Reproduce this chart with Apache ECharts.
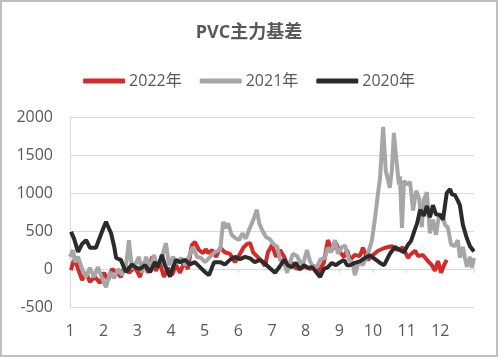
<!DOCTYPE html>
<html><head><meta charset="utf-8">
<script src="https://cdn.jsdelivr.net/npm/echarts@6/dist/echarts.min.js"></script>
<style>html,body{margin:0;padding:0;background:#fff}#c{width:498px;height:357px}</style>
</head><body><div id="c"></div>
<script>
const title = 'PVC主力基差';
const seriesNames = ['2022年', '2021年', '2020年'];
const monthLabels = ['1','2','3','4','5','6','7','8','9','10','11','12'];
// [month position (1 = start of Jan), basis value]
const data2022 = [[1.03,-15],[1.09,90],[1.15,120],[1.24,0],[1.36,-145],[1.48,-50],[1.59,-170],[1.74,-105],[1.89,-185],[2.01,-50],[2.13,-145],[2.25,0],[2.40,-50],[2.51,-105],[2.63,50],[2.75,-50],[2.93,25],[3.08,-105],[3.20,90],[3.32,-50],[3.44,160],[3.55,-25],[3.67,80],[3.79,-105],[3.91,15],[4.03,-80],[4.15,50],[4.27,-50],[4.39,90],[4.50,0],[4.62,315],[4.71,355],[4.83,250],[4.95,210],[5.04,260],[5.10,210],[5.22,250],[5.34,160],[5.46,280],[5.60,220],[5.75,200],[5.90,90],[6.05,200],[6.15,280],[6.26,330],[6.35,340],[6.44,220],[6.55,170],[6.70,100],[6.79,40],[6.88,220],[7.00,315],[7.12,160],[7.24,250],[7.36,160],[7.47,40],[7.59,80],[7.71,10],[7.83,0],[7.98,30],[8.13,0],[8.28,40],[8.37,-40],[8.54,80],[8.66,380],[8.78,250],[8.90,340],[9.02,220],[9.14,160],[9.23,250],[9.32,120],[9.46,185],[9.61,170],[9.70,280],[9.85,120],[10.00,185],[10.15,240],[10.36,280],[10.56,300],[10.71,250],[10.89,280],[11.04,145],[11.10,185],[11.25,240],[11.34,170],[11.48,185],[11.63,105],[11.75,50],[11.84,-25],[11.93,105],[12.02,-50],[12.11,50],[12.19,120]];
const data2021 = [[1.00,160],[1.09,250],[1.15,90],[1.24,160],[1.36,0],[1.48,-105],[1.59,15],[1.71,-105],[1.83,25],[1.95,-120],[2.07,-240],[2.19,-40],[2.31,-120],[2.43,0],[2.54,-80],[2.66,25],[2.75,380],[2.84,0],[2.96,80],[3.05,160],[3.14,-50],[3.26,160],[3.38,0],[3.49,185],[3.61,25],[3.73,160],[3.85,340],[3.94,50],[4.06,160],[4.18,80],[4.30,145],[4.42,50],[4.53,160],[4.65,290],[4.77,160],[4.89,145],[5.01,90],[5.16,160],[5.31,225],[5.46,250],[5.55,620],[5.63,540],[5.70,600],[5.80,450],[5.90,410],[6.02,380],[6.12,470],[6.22,400],[6.32,520],[6.44,640],[6.55,780],[6.62,600],[6.72,500],[6.82,420],[6.94,390],[7.06,320],[7.15,300],[7.24,120],[7.36,80],[7.45,-50],[7.53,80],[7.62,200],[7.74,170],[7.83,100],[7.92,60],[8.04,250],[8.13,100],[8.22,25],[8.34,30],[8.43,120],[8.57,150],[8.66,280],[8.75,220],[8.87,380],[8.96,200],[9.08,290],[9.17,310],[9.29,120],[9.40,80],[9.46,-80],[9.58,100],[9.70,50],[9.85,200],[9.97,380],[10.06,670],[10.15,1000],[10.21,1200],[10.30,1870],[10.38,1290],[10.50,1070],[10.56,1300],[10.62,1790],[10.68,1500],[10.77,1110],[10.80,1220],[10.86,540],[10.92,1160],[11.04,1110],[11.10,1150],[11.19,770],[11.28,1030],[11.37,930],[11.45,550],[11.51,910],[11.60,1010],[11.69,470],[11.78,650],[11.87,450],[11.96,700],[12.05,720],[12.14,580],[12.22,550],[12.32,320],[12.43,300],[12.52,380],[12.58,150],[12.67,290],[12.73,145],[12.79,30],[12.88,160],[12.94,15],[13.00,145]];
const data2020 = [[1.03,490],[1.12,400],[1.24,225],[1.36,330],[1.48,380],[1.59,280],[1.77,280],[1.89,420],[2.01,560],[2.07,620],[2.13,560],[2.22,470],[2.31,300],[2.37,145],[2.51,120],[2.66,-40],[2.84,60],[2.93,25],[3.08,0],[3.23,50],[3.38,-40],[3.52,90],[3.61,25],[3.73,185],[3.82,50],[3.97,-100],[4.06,25],[4.15,120],[4.27,90],[4.42,120],[4.56,60],[4.71,90],[4.86,25],[5.01,-40],[5.13,-80],[5.28,90],[5.46,90],[5.60,60],[5.75,120],[5.90,160],[6.05,130],[6.20,160],[6.35,140],[6.49,90],[6.64,120],[6.82,60],[6.94,10],[7.09,-50],[7.24,40],[7.36,120],[7.47,50],[7.59,25],[7.71,80],[7.83,0],[7.95,50],[8.07,15],[8.19,25],[8.31,-40],[8.43,-105],[8.54,0],[8.66,25],[8.78,80],[8.90,50],[9.02,90],[9.14,120],[9.23,50],[9.32,50],[9.46,80],[9.61,100],[9.76,145],[9.91,180],[10.06,130],[10.21,80],[10.33,50],[10.50,200],[10.65,290],[10.80,250],[10.92,220],[11.04,320],[11.13,370],[11.22,490],[11.31,600],[11.40,780],[11.51,700],[11.60,830],[11.69,680],[11.78,840],[11.87,720],[11.99,710],[12.08,650],[12.19,1000],[12.29,1050],[12.35,980],[12.43,975],[12.52,900],[12.58,840],[12.67,580],[12.79,400],[12.88,300],[13.00,230]];
const yTicks = { min: -500, max: 2000, step: 500 };

const colors = ['#d42a2a', '#a6a6a6', '#2b2b2b'];
const font = '"Open Sans", "Noto Sans CJK SC", sans-serif';
const chart = echarts.init(document.getElementById('c'));
const allData = [data2022, data2021, data2020];
chart.setOption({
  animation: false,
  color: colors,
  textStyle: { fontFamily: font },
  title: { text: title, left: 'center', top: 19,
    textStyle: { fontSize: 18, fontWeight: 'bold', color: '#595959', fontFamily: font } },
  legend: { top: 68, left: 'center', itemWidth: 42, itemHeight: 5, itemGap: 18,
    icon: 'roundRect', data: seriesNames,
    textStyle: { fontSize: 16, color: '#595959', fontFamily: font, padding: [0, 0, 0, -1] } },
  graphic: [{ type: 'rect', shape: { x: 1, y: 1, width: 496, height: 355 },
    style: { fill: 'none', stroke: '#bfbfbf', lineWidth: 2 }, silent: true }],
  grid: { left: 70, right: 24, top: 117, bottom: 50 },
  xAxis: [{
    type: 'value', min: 1, max: 13, interval: 1, position: 'bottom',
    axisLine: { show: false }, axisTick: { show: false }, splitLine: { show: false },
    axisLabel: { fontSize: 16, color: '#595959', margin: 16, fontFamily: font,
      formatter: v => monthLabels[v - 1] || '' }
  }, {
    type: 'value', min: 1, max: 13, interval: 1, position: 'bottom', offset: -38,
    axisLine: { show: true, lineStyle: { color: '#d9d9d9', width: 1 } },
    axisTick: { show: true, length: 4, lineStyle: { color: '#d9d9d9' } },
    axisLabel: { show: false }, splitLine: { show: false }
  }],
  yAxis: {
    type: 'value', min: yTicks.min, max: yTicks.max, interval: yTicks.step,
    axisLine: { show: true, lineStyle: { color: '#d9d9d9' } },
    axisTick: { show: false },
    splitLine: { lineStyle: { color: '#d9d9d9' } },
    axisLabel: { fontSize: 16, color: '#595959', margin: 17, fontFamily: font,
      formatter: v => String(v) }
  },
  series: seriesNames.map((n, i) => ({
    name: n, type: 'line', data: allData[i], showSymbol: false, symbol: 'none',
    xAxisIndex: 0,
    lineStyle: { width: 4, color: colors[i] }, itemStyle: { color: colors[i] }
  }))
});
</script></body></html>
